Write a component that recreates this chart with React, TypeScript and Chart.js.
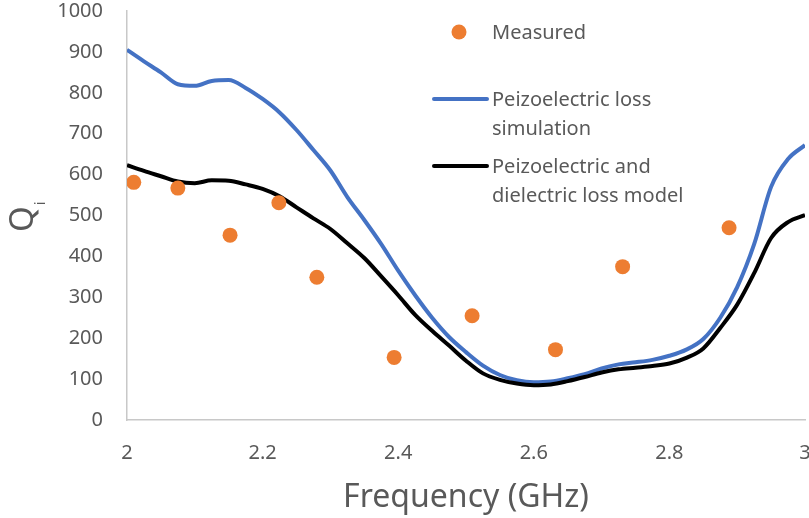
import React, { useEffect, useRef } from "react";
import { Chart, registerables } from "chart.js";

Chart.register(...registerables);

// Frequency grid (GHz) for the two modelled curves
const frequencyGHz = [
  2.0, 2.025, 2.05, 2.075, 2.1, 2.125, 2.15, 2.175, 2.2, 2.225,
  2.25, 2.275, 2.3, 2.325, 2.35, 2.375, 2.4, 2.425, 2.45, 2.475,
  2.5, 2.525, 2.55, 2.575, 2.6, 2.625, 2.65, 2.675, 2.7, 2.725,
  2.75, 2.775, 2.8, 2.825, 2.85, 2.875, 2.9, 2.925, 2.95, 2.975, 3.0,
];

// Qi from the piezoelectric-loss simulation
const piezoSimulationQ = [
  905, 877, 850, 821, 817, 829, 831, 812, 785, 752,
  709, 660, 610, 545, 489, 430, 365, 305, 250, 203,
  166, 133, 110, 97, 92, 94, 102, 112, 126, 136,
  141, 147, 157, 172, 198, 250, 325, 430, 570, 638, 672,
];

// Qi from the piezoelectric + dielectric loss model
const piezoDielectricModelQ = [
  623, 609, 596, 583, 579, 586, 585, 576, 565, 547,
  520, 493, 467, 432, 396, 351, 305, 257, 218, 182,
  145, 114, 98, 89, 85, 87, 95, 105, 116, 124,
  128, 132, 138, 152, 175, 225, 282, 359, 445, 484, 501,
];

// Measured resonators
const measuredFrequencyGHz = [2.01, 2.075, 2.152, 2.224, 2.28, 2.394, 2.509, 2.632, 2.731, 2.888];
const measuredQ = [581, 567, 452, 531, 349, 153, 255, 172, 375, 470];

// Legend text, one entry per dataset, split into display lines
const legendLines = [
  ["Measured"],
  ["Peizoelectric loss", "simulation"],
  ["Peizoelectric and", "dielectric loss model"],
];

const xAxisTitle = "Frequency (GHz)";
const yAxisSymbol = "Q";
const yAxisSubscript = "i";

const TEXT_COLOR = "#595959";
const FONT = "'Noto Sans', 'Open Sans', sans-serif";

const toPoints = (xs: number[], ys: number[]) => xs.map((x, i) => ({ x, y: ys[i] }));

// Rotated "Qi" axis label with a subscript
const yTitlePlugin = {
  id: "yTitleWithSubscript",
  afterDraw(chart: any) {
    const { ctx } = chart;
    ctx.save();
    ctx.fillStyle = TEXT_COLOR;
    ctx.translate(33, 232);
    ctx.rotate(-Math.PI / 2);
    ctx.textAlign = "left";
    ctx.textBaseline = "alphabetic";
    ctx.font = `33px ${FONT}`;
    ctx.fillText(yAxisSymbol, 0, 0);
    const w = ctx.measureText(yAxisSymbol).width;
    ctx.font = `15px ${FONT}`;
    ctx.fillText(yAxisSubscript, w + 1, 12);
    ctx.restore();
  },
};

// Legend drawn inside the plot, upper right
const legendPlugin = {
  id: "insideLegend",
  afterDraw(chart: any) {
    const { ctx } = chart;
    const datasets = chart.data.datasets;
    const rows = [
      { markY: 32, textY: [33] },
      { markY: 99, textY: [100, 129] },
      { markY: 166, textY: [167, 196] },
    ];
    ctx.save();
    datasets.forEach((ds: any, i: number) => {
      const row = rows[i];
      if (ds.showLine) {
        ctx.strokeStyle = ds.borderColor;
        ctx.lineWidth = ds.borderWidth;
        ctx.lineCap = "round";
        ctx.beginPath();
        ctx.moveTo(434, row.markY);
        ctx.lineTo(487, row.markY);
        ctx.stroke();
      } else {
        ctx.fillStyle = ds.backgroundColor;
        ctx.beginPath();
        ctx.arc(459, row.markY, ds.pointRadius, 0, Math.PI * 2);
        ctx.fill();
      }
      ctx.fillStyle = TEXT_COLOR;
      ctx.font = `20px ${FONT}`;
      ctx.textAlign = "left";
      ctx.textBaseline = "middle";
      legendLines[i].forEach((line, j) => ctx.fillText(line, 492, row.textY[j]));
    });
    ctx.restore();
  },
};

export default function App() {
  const canvasRef = useRef<HTMLCanvasElement | null>(null);

  useEffect(() => {
    const canvas = canvasRef.current;
    if (!canvas) return;
    const chart = new Chart(canvas, {
      type: "scatter",
      data: {
        datasets: [
          {
            label: legendLines[0].join(" "),
            data: toPoints(measuredFrequencyGHz, measuredQ),
            showLine: false,
            backgroundColor: "#ED7D31",
            borderColor: "#ED7D31",
            pointRadius: 7.5,
            pointBorderWidth: 0,
            order: 0,
          },
          {
            label: legendLines[1].join(" "),
            data: toPoints(frequencyGHz, piezoSimulationQ),
            showLine: true,
            borderColor: "#4472C4",
            backgroundColor: "#4472C4",
            borderWidth: 4,
            pointRadius: 0,
            cubicInterpolationMode: "monotone",
            order: 2,
          },
          {
            label: legendLines[2].join(" "),
            data: toPoints(frequencyGHz, piezoDielectricModelQ),
            showLine: true,
            borderColor: "#000000",
            backgroundColor: "#000000",
            borderWidth: 4,
            pointRadius: 0,
            cubicInterpolationMode: "monotone",
            order: 1,
          },
        ],
      },
      options: {
        responsive: false,
        animation: false,
        layout: { autoPadding: false, padding: { top: 11, right: 4, left: 0, bottom: 0 } },
        plugins: {
          legend: { display: false },
          tooltip: { enabled: false },
        },
        scales: {
          x: {
            type: "linear",
            min: 2,
            max: 3,
            grid: { display: false, drawTicks: false },
            border: { display: true, color: "#C8C8C8", width: 1.5 },
            ticks: {
              stepSize: 0.2,
              padding: 21,
              color: TEXT_COLOR,
              font: { family: FONT, size: 20 },
              maxRotation: 0,
              callback: (v: any) => String(Number(Number(v).toFixed(1))),
            },
            title: {
              display: true,
              text: xAxisTitle,
              color: TEXT_COLOR,
              font: { family: FONT, size: 32 },
              padding: { top: 0, bottom: 1 },
            },
            afterFit: (scale: any) => {
              scale.height = 98;
              scale.paddingLeft = 0;
              scale.paddingRight = 0;
            },
          },
          y: {
            min: 0,
            max: 1000,
            grid: { display: false, drawTicks: false },
            border: { display: true, color: "#C8C8C8", width: 1.5 },
            ticks: {
              stepSize: 100,
              padding: 24,
              color: TEXT_COLOR,
              font: { family: FONT, size: 20 },
              callback: (v: any) => String(v),
            },
            afterFit: (scale: any) => {
              scale.width = 127;
              scale.paddingTop = 0;
              scale.paddingBottom = 0;
            },
          },
        },
      },
      plugins: [yTitlePlugin, legendPlugin],
    });
    return () => chart.destroy();
  }, []);

  return (
    <div style={{ position: "fixed", left: 0, top: 0, width: 809, height: 518, background: "#fff" }}>
      <canvas ref={canvasRef} width={809} height={518} />
    </div>
  );
}
